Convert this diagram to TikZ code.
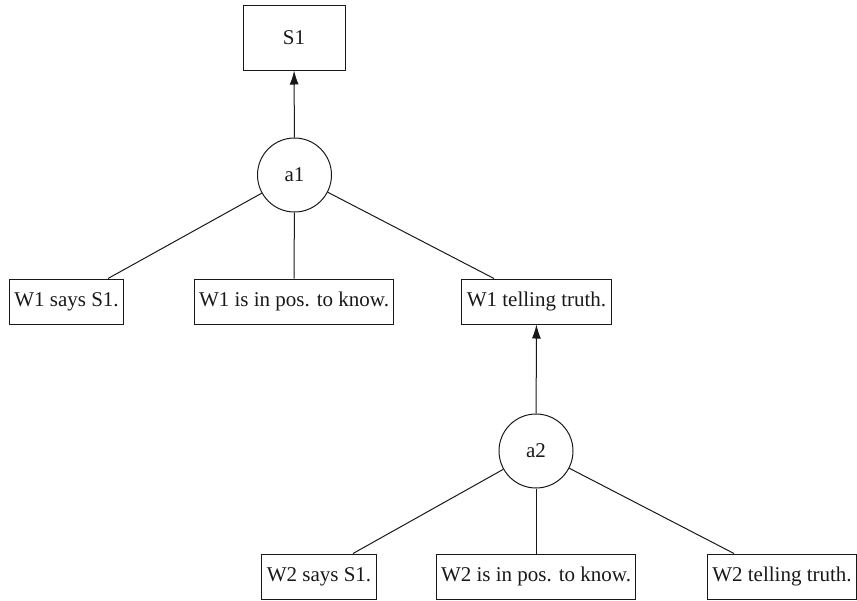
\documentclass[tikz,border=0pt]{standalone}
\usepackage{fontspec}
\setmainfont{Liberation Serif}
\usetikzlibrary{arrows.meta}
\begin{document}
\begin{tikzpicture}[x=1pt,y=-1pt,
  every node/.style={font=\fontsize{21}{25}\selectfont, text=black!90},
  claim/.style={draw=black!90, line width=1pt, rectangle, inner xsep=5pt, minimum height=45pt},
  topclaim/.style={claim, minimum width=102pt, minimum height=65pt},
  arg/.style={draw=black!90, line width=1pt, circle, minimum size=74pt, inner sep=0pt},
  link/.style={draw=black!90, line width=1pt},
  support/.style={link, -{Latex[length=14pt,width=9pt]}}]
\useasboundingbox (0,0) rectangle (857,600);

% argument a1
\node[topclaim] (s1) at (294,37.5) {S1};
\node[arg] (a1) at (294.5,175) {a1};
\node[claim] (w1say) at (66.5,301.5) {W1 says S1.};
\node[claim] (w1pos) at (294,301.5) {W1 is in pos. to know.};
\node[claim] (w1tru) at (536.5,301.5) {W1 telling truth.};

% argument a2
\node[arg] (a2) at (536,451) {a2};
\node[claim] (w2say) at (319,576.5) {W2 says S1.};
\node[claim] (w2pos) at (536,576.5) {W2 is in pos. to know.};
\node[claim] (w2tru) at (782,576.5) {W2 telling truth.};

% connectors
\draw[support] (a1) -- (s1);
\draw[link] (a1) -- ([xshift=41.5pt]w1say.north);
\draw[link] (a1) -- (w1pos);
\draw[link] (a1) -- ([xshift=-42.5pt]w1tru.north);

\draw[support] (a2) -- (w1tru);
\draw[link] (a2) -- ([xshift=34pt]w2say.north);
\draw[link] (a2) -- (w2pos);
\draw[link] (a2) -- ([xshift=-48pt]w2tru.north);
\end{tikzpicture}
\end{document}
